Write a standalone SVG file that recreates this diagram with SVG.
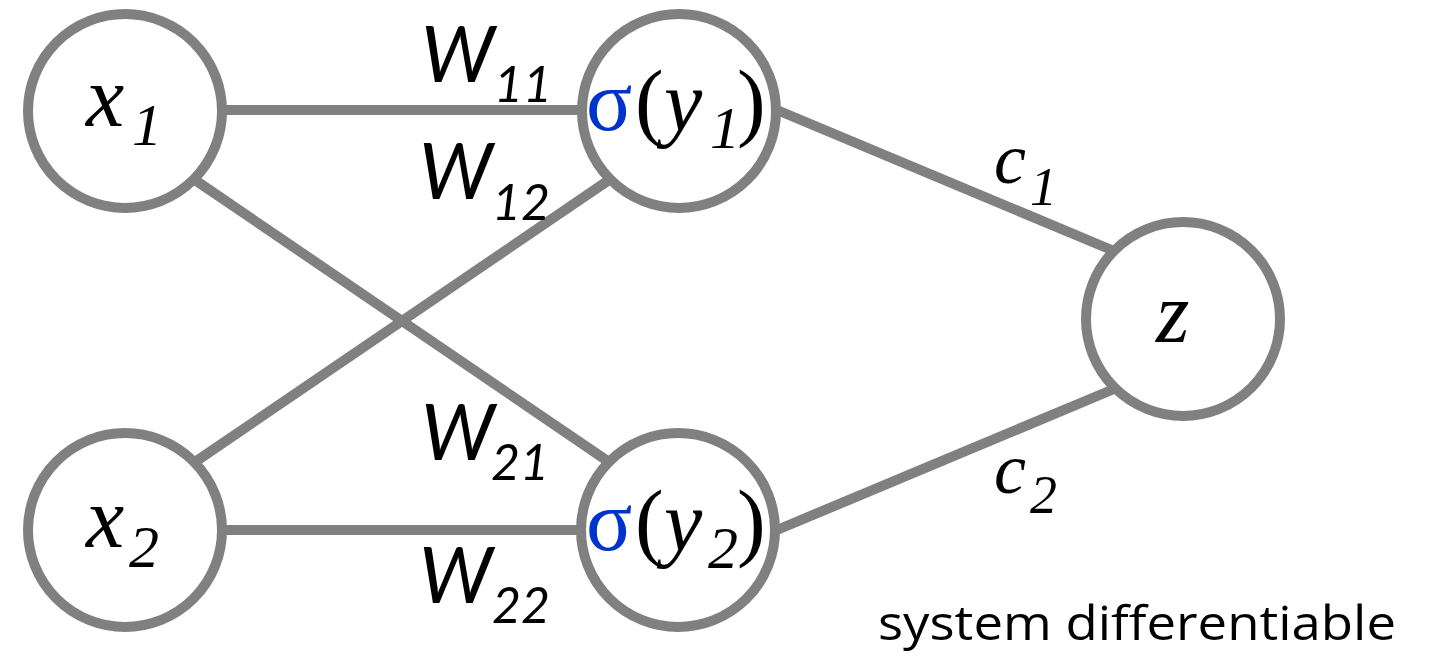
<svg xmlns="http://www.w3.org/2000/svg" width="1434" height="657" viewBox="0 0 1434 657">
  <defs>
    <style>
      .edge { stroke: #808080; stroke-width: 10; fill: none; }
      .node { stroke: #808080; stroke-width: 10; fill: #ffffff; }
      .sigma { fill: #0033cc; }
    </style>
  </defs>

  <!-- weighted connections -->
  <g id="connectors">
    <line class="edge" x1="222" y1="110" x2="582" y2="110"/>
    <line class="edge" x1="222" y1="530" x2="582" y2="530"/>
    <line class="edge" x1="195" y1="180" x2="609" y2="462"/>
    <line class="edge" x1="195" y1="462" x2="609" y2="180"/>
    <line class="edge" x1="777" y1="110" x2="1114" y2="251"/>
    <line class="edge" x1="777" y1="530" x2="1114" y2="389"/>
  </g>

  <!-- edge weights -->
  <g id="weights" fill="#000000" font-style="italic">
    <g font-family="Lato, 'Open Sans', sans-serif">
      <text x="421" y="82" font-size="77">W<tspan x="494" y="102" font-size="50">11</tspan></text>
      <text x="419" y="199" font-size="77">W<tspan x="492" y="220" font-size="50">12</tspan></text>
      <text x="421" y="460" font-size="77">W<tspan x="491" y="480" font-size="50">21</tspan></text>
      <text x="419" y="603" font-size="77">W<tspan x="492" y="623" font-size="50">22</tspan></text>
    </g>
    <g font-family="'Liberation Serif', serif">
      <text x="994" y="183" font-size="72">c<tspan x="1030" y="205" font-size="54">1</tspan></text>
      <text x="994" y="493" font-size="72">c<tspan x="1030" y="513" font-size="54">2</tspan></text>
    </g>
  </g>

  <g id="node-x1">
    <circle class="node" cx="125" cy="111" r="97"/>
    <text x="86" y="126" font-family="'Liberation Serif', serif" font-style="italic" font-size="86" fill="#000000">x<tspan x="132" y="145" font-size="60">1</tspan></text>
  </g>

  <g id="node-x2">
    <circle class="node" cx="125" cy="530" r="97"/>
    <text x="86" y="547" font-family="'Liberation Serif', serif" font-style="italic" font-size="86" fill="#000000">x<tspan x="129" y="567" font-size="60">2</tspan></text>
  </g>

  <g id="node-y1">
    <circle class="node" cx="679" cy="111" r="97"/>
    <text x="586" y="130" font-family="'Liberation Serif', serif" font-size="86" fill="#000000"><tspan class="sigma">σ</tspan><tspan x="635">(</tspan><tspan x="664" font-style="italic">y</tspan><tspan x="710" y="148" font-size="60" font-style="italic">1</tspan><tspan x="737" y="130">)</tspan></text>
  </g>

  <g id="node-y2">
    <circle class="node" cx="678" cy="530" r="97"/>
    <text x="586" y="550" font-family="'Liberation Serif', serif" font-size="86" fill="#000000"><tspan class="sigma">σ</tspan><tspan x="635">(</tspan><tspan x="664" font-style="italic">y</tspan><tspan x="708" y="568" font-size="60" font-style="italic">2</tspan><tspan x="737" y="550">)</tspan></text>
  </g>

  <g id="node-z">
    <circle class="node" cx="1183" cy="319" r="97"/>
    <text x="1156" y="342" font-family="'Liberation Serif', serif" font-style="italic" font-size="86" fill="#000000">z</text>
  </g>

  <text x="878" y="640" font-family="'Open Sans', 'Noto Sans', sans-serif" font-size="47" fill="#000000" textLength="518" lengthAdjust="spacingAndGlyphs">system differentiable</text>
</svg>
